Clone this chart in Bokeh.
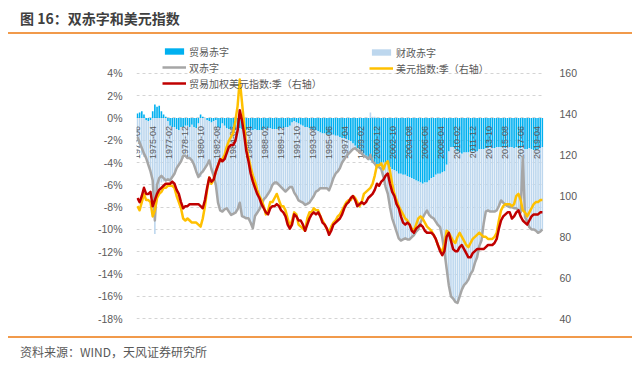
import numpy as np
from bokeh.plotting import figure
from bokeh.layouts import column
from bokeh.models import (Range1d, LinearAxis, FixedTicker, Legend, LegendItem, Div,
                          ColumnDataSource, PrintfTickFormatter)
from bokeh.core.properties import value
from bokeh.embed import file_html
from bokeh.resources import INLINE

# ---------------- data (quarterly, first quarter = 1973-06) ----------------
first_period = "1973-06"

trade_deficit = [  # 贸易赤字, % of GDP
    0.4, 0.5, 0.6,
    0.3, -0.2, -0.3, -0.2,
    0.6, 1.2, 1.0, 1.1,
    0.6, 0.3, 0.1, -0.3,
    -0.7, -0.8, -0.8, -1.0,
    -1.1, -0.8, -0.8, -0.7,
    -0.7, -0.8, -0.6, -0.8,
    -0.9, -0.5, 0.3, 0.1,
    0.0, -0.2, -0.3, -0.4,
    -0.3, -0.2, -0.8, -0.9,
    -0.5, -0.7, -0.9, -1.0,
    -1.0, -1.0, -1.1, -1.0,
    -0.9, -1.0, -1.0, -1.1,
    -1.1, -1.1, -1.1, -1.0,
    -1.1, -1.1, -1.1, -1.0,
    -1.0, -0.9, -0.9, -1.0,
    -1.0, -1.0, -1.0, -0.9,
    -0.9, -0.8, -0.8, -0.7,
    -0.4, -0.3, -0.4, -0.5,
    -0.6, -0.7, -0.8, -0.8,
    -0.9, -1.0, -1.1, -1.1,
    -1.2, -1.3, -1.4, -1.4,
    -1.5, -1.5, -1.5, -1.5,
    -1.6, -1.6, -1.7, -1.8,
    -1.8, -1.9, -2.0, -2.1,
    -2.3, -2.5, -2.7, -2.8,
    -3.0, -3.2, -3.4, -3.6,
    -3.8, -4.0, -4.2, -4.3,
    -4.2, -4.1, -4.0, -4.0,
    -4.2, -4.4, -4.6, -4.7,
    -4.8, -5.0, -5.0, -5.1,
    -5.1, -5.2, -5.3, -5.4,
    -5.5, -5.6, -5.7, -5.8,
    -5.9, -5.8, -5.8, -5.6,
    -5.4, -5.3, -5.1, -5.0,
    -5.0, -4.9, -4.8, -4.2,
    -3.0, -2.6, -2.6, -2.8,
    -3.0, -3.1, -3.2, -3.1,
    -3.1, -3.1, -3.0, -3.0,
    -3.0, -3.0, -2.8, -2.8,
    -2.8, -2.7, -2.7, -2.6,
    -2.7, -2.7, -2.6, -2.6,
    -2.6, -2.6, -2.7, -2.6,
    -2.6, -2.6, -2.7, -2.6,
    -2.7, -2.7, -2.6, -2.8,
    -2.8, -2.7, -2.8, -2.9,
    -2.9, -2.8, -2.7, -2.6,
]

fiscal_deficit = [  # 财政赤字, % of GDP
    -2.1, -2.7, -3.3,
    -3.5, -3.4, -3.9, -4.6,
    -6.2, -10.4, -7.0, -6.5,
    -5.8, -5.7, -5.7, -5.2,
    -4.9, -4.5, -4.2, -3.5,
    -3.1, -3.1, -2.6, -2.7,
    -2.9, -2.8, -3.2, -3.4,
    -3.9, -4.8, -5.3, -4.9,
    -4.5, -4.0, -3.5, -4.2,
    -4.9, -5.8, -6.8, -7.4,
    -7.9, -7.5, -7.2, -7.4,
    -7.7, -7.6, -7.4, -7.2,
    -6.7, -7.8, -7.9, -7.9,
    -7.9, -8.3, -8.8, -7.8,
    -7.4, -7.1, -6.7, -6.3,
    -6.1, -5.9, -5.6, -5.0,
    -4.8, -4.8, -5.0, -5.3,
    -5.5, -5.8, -5.6, -5.5,
    -5.8, -6.4, -6.6, -6.9,
    -6.9, -6.9, -7.0, -6.9,
    -6.7, -6.3, -5.9, -5.5,
    -5.3, -5.0, -4.9, -4.9,
    -4.8, -5.0, -4.5, -3.9,
    -3.4, -3.2, -2.8, -2.2,
    -1.9, -1.5, -1.2, -0.9,
    -0.5, -0.2, -0.2, -0.2,
    -0.2, -0.2, -0.1, -0.1,
    0.5, 0.1, 0.1, -0.1,
    -0.2, -0.5, -1.3, -2.2,
    -2.6, -3.6, -4.4, -4.9,
    -5.4, -5.8, -6.0, -5.8,
    -5.7, -5.7, -5.6, -5.3,
    -5.0, -4.6, -4.3, -3.6,
    -3.1, -2.8, -2.5, -3.1,
    -3.5, -3.7, -4.2, -4.6,
    -4.8, -5.8, -7.2, -9.3,
    -12.0, -13.4, -13.6, -13.7,
    -13.6, -12.9, -12.2, -11.9,
    -11.7, -11.4, -11.0, -10.7,
    -10.0, -9.5, -8.7, -8.2,
    -6.7, -5.7, -5.6, -5.8,
    -5.7, -5.7, -5.7, -5.3,
    -4.8, -5.0, -5.1, -5.3,
    -5.4, -5.4, -5.4, -5.5,
    -5.6, -5.8, -0.9, -6.1,
    -6.5, -7.1, -7.2, -7.1,
    -7.2, -7.5, -7.5, -7.4,
]

twin_deficit = [  # 双赤字, % of GDP
    -1.7, -2.2, -2.7,
    -3.2, -3.6, -4.2, -4.8,
    -5.6, -9.2, -6.0, -5.4,
    -5.2, -5.4, -5.6, -5.5,
    -5.6, -5.3, -5.0, -4.5,
    -4.2, -3.9, -3.4, -3.4,
    -3.6, -3.6, -3.8, -4.2,
    -4.8, -5.3, -5.0, -4.8,
    -4.5, -4.2, -3.8, -4.6,
    -5.2, -6.0, -7.6, -8.3,
    -8.4, -8.2, -8.1, -8.4,
    -8.7, -8.6, -8.5, -8.2,
    -7.6, -8.8, -8.9, -9.0,
    -9.0, -9.4, -9.9, -8.8,
    -8.5, -8.2, -7.8, -7.3,
    -7.1, -6.8, -6.5, -6.0,
    -5.8, -5.8, -6.0, -6.2,
    -6.4, -6.6, -6.4, -6.2,
    -6.2, -6.7, -7.0, -7.4,
    -7.5, -7.6, -7.8, -7.7,
    -7.6, -7.3, -7.0, -6.6,
    -6.5, -6.3, -6.3, -6.3,
    -6.3, -6.5, -6.0, -5.4,
    -5.0, -4.8, -4.5, -4.0,
    -3.7, -3.4, -3.2, -3.0,
    -2.8, -2.7, -2.9, -3.0,
    -3.2, -3.4, -3.5, -3.7,
    -3.3, -3.9, -4.1, -4.4,
    -4.4, -4.6, -5.3, -6.2,
    -6.8, -8.0, -9.0, -9.6,
    -10.2, -10.8, -11.0, -10.9,
    -10.8, -10.9, -10.9, -10.7,
    -10.5, -10.2, -10.0, -9.4,
    -9.0, -8.6, -8.3, -8.7,
    -8.9, -9.0, -9.3, -9.6,
    -9.8, -10.7, -12.0, -13.5,
    -15.0, -16.0, -16.2, -16.5,
    -16.6, -16.0, -15.4, -15.0,
    -14.8, -14.5, -14.0, -13.7,
    -13.0, -12.5, -11.5, -11.0,
    -9.5, -8.4, -8.3, -8.4,
    -8.4, -8.4, -8.3, -7.9,
    -7.4, -7.6, -7.8, -7.9,
    -8.0, -8.0, -8.1, -8.1,
    -8.3, -8.5, -3.5, -8.9,
    -9.3, -9.8, -10.0, -10.0,
    -10.1, -10.3, -10.2, -10.0,
]

dollar_index = [  # 美元指数:季
    95, 93, 97,
    101, 98, 98, 97,
    90, 93, 99, 101,
    102, 104, 104, 105,
    105, 105, 104, 100,
    97, 94, 89, 88,
    89, 88, 87, 87,
    87, 86, 85, 89,
    95, 103, 109, 106,
    108, 112, 115, 118,
    118, 120, 124, 127,
    129, 131, 137, 144,
    157, 146, 135, 124,
    119, 114, 110, 107,
    103, 100, 98, 95,
    91, 93, 97, 97,
    99, 101, 98, 95,
    95, 93, 89, 85,
    88, 92, 91, 86,
    85, 84, 83, 89,
    92, 92, 94, 93,
    93, 90, 88, 86,
    84, 82, 85, 87,
    88, 90, 91, 93,
    95, 97, 98, 98,
    100, 99, 97, 95,
    97, 101, 102, 103,
    104, 106, 110, 115,
    115, 116, 113, 116,
    117, 112, 106, 101,
    98, 95, 93, 91,
    89, 88, 86, 84,
    83, 86, 89, 90,
    89, 87, 85, 84,
    83, 81, 79, 76,
    74, 73, 76, 83,
    82, 80, 78, 77,
    80, 82, 80, 78,
    76, 75, 77, 79,
    80, 81, 82, 81,
    80, 80, 79, 79,
    79, 80, 82, 88,
    93, 95, 96, 96,
    96, 95, 96, 100,
    101, 98, 93, 92,
    90, 92, 94, 96,
    97, 97, 98, 98,
]

trade_weighted_index = [  # 贸易加权美元指数:季
    99, 97, 100,
    104, 101, 101, 102,
    95, 98, 101, 103,
    104, 105, 106, 106,
    106, 107, 106, 103,
    101, 97, 94, 95,
    95, 96, 96, 96,
    96, 96, 95, 94,
    98, 104, 109, 107,
    108, 112, 115, 118,
    117, 118, 121, 124,
    125, 125, 127, 132,
    142, 137, 130, 122,
    117, 111, 107, 104,
    101, 99, 96, 94,
    92, 91, 94, 95,
    95, 96, 95, 93,
    92, 90, 86, 84,
    86, 91, 90, 88,
    88, 86, 83, 86,
    89, 91, 92, 91,
    92, 90, 87, 86,
    84, 81, 83, 86,
    87, 88, 89, 91,
    94, 96, 97, 99,
    100, 98, 95, 96,
    97, 96, 97, 99,
    100, 101, 103, 106,
    105, 107, 108, 110,
    111, 106, 102, 100,
    96, 94, 90, 87,
    86, 87, 86, 83,
    82, 84, 85, 86,
    85, 83, 82, 82,
    82, 81, 79, 76,
    73, 71, 73, 80,
    82, 78, 74, 73,
    73, 75, 76, 74,
    72, 70, 70, 72,
    73, 74, 74, 74,
    74, 75, 76, 76,
    76, 77, 79, 84,
    88, 90, 91, 92,
    92, 89, 90, 92,
    93, 90, 88, 87,
    86, 88, 90, 91,
    91, 91, 92, 92,
]

tick_labels = ["1973-06", "1975-04", "1977-02", "1978-12", "1980-10", "1982-08",
               "1984-06", "1986-04", "1988-02", "1989-12", "1991-10", "1993-08",
               "1995-06", "1997-04", "1999-02", "2000-12", "2002-10", "2004-08",
               "2006-06", "2008-04", "2010-02", "2011-12", "2013-10", "2015-08",
               "2017-06", "2019-04"]

left_ticks = [4, 2, 0, -2, -4, -6, -8, -10, -12, -14, -16, -18]
right_ticks = [160, 140, 120, 100, 80, 60, 40]

title_text = "图 16：双赤字和美元指数"
source_text = "资料来源：WIND，天风证券研究所"

# ---------------- helpers ----------------
y0, m0 = map(int, first_period.split("-"))


def month_index(lbl):
    y, m = map(int, lbl.split("-"))
    return (y - y0) * 12 + (m - m0)


n = len(trade_deficit)
xs = [3 * i for i in range(n)]  # quarterly data on a monthly axis

fb, ft = [], []
for t, f in zip(trade_deficit, fiscal_deficit):
    base = min(t, 0.0) if f < 0 else max(t, 0.0)
    fb.append(base)
    ft.append(base + f)

src = ColumnDataSource(dict(x=xs, trade=trade_deficit, fb=fb, ft=ft, twin=twin_deficit,
                            dxy=dollar_index, twi=trade_weighted_index))

W = 640
ORANGE = "#F19A4B"
AX_COLOR = "#595959"
cjk = "Noto Sans CJK SC"
lab_font = value("Liberation Sans")

# ---------------- title strip ----------------
top = Div(width=W, height=40, margin=(0, 0, 0, 0), text=(
    '<div style="position:relative;width:640px;height:40px;overflow:hidden;">'
    '<span style="position:absolute;left:20px;top:8px;white-space:nowrap;'
    "font-family:'Noto Sans CJK SC';font-size:14px;font-weight:bold;color:#3F3F3F;"
    f'line-height:20px;">{title_text}</span>'
    f'<div style="position:absolute;left:8px;top:31.7px;width:624px;height:2px;background:{ORANGE};"></div>'
    '</div>'))

# ---------------- main chart ----------------
L_LO, L_HI = -18.35, 6.95
conv = (160 - 40) / (4 - (-18))
R_LO, R_HI = 40 + (L_LO + 18) * conv, 40 + (L_HI + 18) * conv

p = figure(width=W, height=284, output_backend="svg", toolbar_location=None, tools="",
           x_range=Range1d(-1.3, 559.5), y_range=Range1d(L_LO, L_HI),
           min_border_left=136, min_border_right=97, min_border_top=0, min_border_bottom=2)
p.outline_line_color = None
p.background_fill_color = "white"
p.border_fill_color = "white"
p.xaxis.visible = False
p.xgrid.visible = False

p.extra_y_ranges = {"right": Range1d(R_LO, R_HI)}

yl = p.yaxis[0]
yl.ticker = FixedTicker(ticks=left_ticks)
yl.formatter = PrintfTickFormatter(format="%d%%")
yr = LinearAxis(y_range_name="right", ticker=FixedTicker(ticks=right_ticks))
p.add_layout(yr, "right")
for ax, st in ((yl, 8), (yr, 10)):
    ax.axis_line_color = None
    ax.major_tick_line_color = None
    ax.minor_tick_line_color = None
    ax.major_label_text_font = "Liberation Sans"
    ax.major_label_text_font_size = "10.5px"
    ax.major_label_text_color = AX_COLOR
    ax.major_label_standoff = st

p.ygrid.ticker = FixedTicker(ticks=left_ticks)
p.ygrid.grid_line_color = "#D4D4D4"
p.ygrid.grid_line_dash = "3 3"
p.ygrid.grid_line_width = 1

BAR_W = 2.2
r_trade = p.vbar(x="x", bottom=0, top="trade", width=BAR_W, source=src,
                 fill_color="#00B0F0", line_color=None)
r_fiscal = p.vbar(x="x", bottom="fb", top="ft", width=BAR_W, source=src,
                  fill_color="#BDD7EE", line_color=None)

# category labels inside the plot, rotated, just under the zero line
tick_src = ColumnDataSource(dict(x=[month_index(t) for t in tick_labels], text=tick_labels))
p.text(x="x", y=0, text="text", source=tick_src, angle=np.pi / 2,
       text_align="right", text_baseline="middle", y_offset=8,
       text_font=lab_font, text_font_size="9px", text_color=AX_COLOR)

r_twin = p.line(x="x", y="twin", source=src, line_color="#A6A6A6", line_width=2.5,
                line_join="round")
r_dxy = p.line(x="x", y="dxy", source=src, y_range_name="right", line_color="#FFC000",
               line_width=2.5, line_join="round")
r_twi = p.line(x="x", y="twi", source=src, y_range_name="right", line_color="#C00000",
               line_width=2.5, line_join="round")


def make_legend(items, loc):
    lg = Legend(items=items, location=loc, orientation="vertical",
                label_text_font=cjk, label_text_font_size="10px", label_text_color=AX_COLOR,
                glyph_width=24, glyph_height=8, label_height=13, label_standoff=3,
                spacing=1, padding=0, margin=0, border_line_color=None,
                background_fill_alpha=0)
    p.add_layout(lg)
    return lg


make_legend([LegendItem(label="贸易赤字", renderers=[r_trade]),
             LegendItem(label="双赤字", renderers=[r_twin]),
             LegendItem(label="贸易加权美元指数:季（右轴）", renderers=[r_twi])], (26, 231.5))
make_legend([LegendItem(label="财政赤字", renderers=[r_fiscal]),
             LegendItem(label="美元指数:季（右轴）", renderers=[r_dxy])], (233, 246.5))

# ---------------- source strip ----------------
bottom = Div(width=W, height=41, margin=(0, 0, 0, 0), text=(
    '<div style="position:relative;width:640px;height:41px;overflow:hidden;">'
    f'<div style="position:absolute;left:8px;top:11.5px;width:624px;height:2px;background:{ORANGE};"></div>'
    '<span style="position:absolute;left:20px;top:19px;white-space:nowrap;'
    "font-family:'Noto Sans CJK SC';font-size:12px;color:#595959;"
    f'line-height:18px;">{source_text}</span>'
    '</div>'))

layout = column(top, p, bottom, spacing=0)
open("out.html", "w").write(file_html(layout, INLINE))
